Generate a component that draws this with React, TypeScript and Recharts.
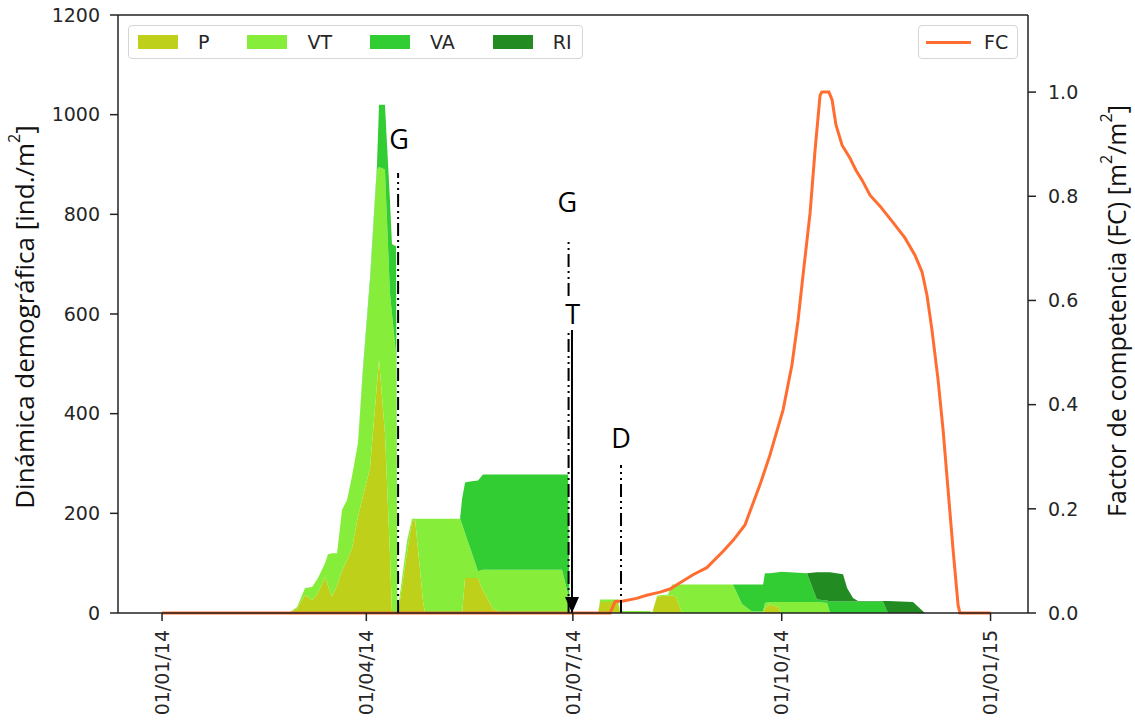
import { ComposedChart, Area, Line, XAxis, YAxis, ReferenceLine, ReferenceDot } from 'recharts';

// days since 01/01/14
const days = [0, 55.5, 56.4, 59.5, 63.0, 66.1, 68.7, 71.8, 73.1, 74.9, 77.1, 79.3, 81.5, 83.7, 86.3, 88.5, 91.6, 94.7, 95.6, 98.2, 100.4, 101.3, 103.1, 103.7, 104.8, 107.9, 110.1, 111.5, 115.0, 115.9, 131.3, 132.2, 133.5, 135.7, 139.2, 141.4, 143.2, 145.8, 150.2, 176.2, 178.9, 179.5, 192.1, 193.0, 200.9, 201.8, 215.0, 215.9, 218.1, 222.9, 224.7, 226.4, 229.1, 251.5, 255.5, 259.9, 264.8, 265.6, 267.8, 271.4, 272.7, 284.1, 288.5, 293.0, 294.3, 300.0, 301.8, 304.4, 306.6, 317.6, 319.8, 330.8, 336.1, 365];
const pVals = [0, 0, 0, 10, 36, 26, 40, 72, 55, 33, 55, 85, 106, 130, 193, 235, 290, 460, 508, 361, 120, 0, 0, 0, 25, 120, 184, 187, 23, 0, 0, 0, 70, 70, 70, 45, 30, 8, 0, 0, 0, 0, 0, 22, 22, 0, 0, 0, 33, 35, 35, 33, 0, 0, 0, 0, 0, 10, 17, 12, 0, 0, 0, 0, 0, 0, 0, 0, 0, 0, 0, 0, 0, 0];
const vtVals = [0, 0, 2, 2, 14, 26, 30, 28, 63, 87, 65, 122, 121, 145, 147, 247, 370, 430, 387, 529, 522, 600, 520, 0, 12, 24, 5, 2, 166, 189, 189, 178, 90, 61, 14, 42, 57, 79, 87, 87, 37, 0, 0, 5, 5, 4, 4, 0, 2, 2, 22, 24, 57, 57, 18, 3, 3, 10, 5, 10, 22, 22, 22, 20, 0, 0, 0, 0, 0, 0, 0, 0, 0, 0];
const vaVals = [0, 0, 0, 0, 0, 0, 0, 0, 0, 0, 0, 0, 0, 0, 0, 8, 10, 10, 125, 130, 188, 140, 216, 0, 0, 0, 0, 0, 0, 0, 0, 52, 102, 133, 182, 191, 191, 191, 191, 191, 241, 0, 0, 0, 0, 0, 0, 0, 0, 0, 0, 0, 0, 0, 39, 54, 54, 60, 58, 60, 61, 58, 5, 5, 23, 23, 23, 23, 23, 23, 0, 0, 0, 0];
const riVals = [0, 0, 0, 0, 0, 0, 0, 0, 0, 0, 0, 0, 0, 0, 0, 0, 0, 0, 0, 0, 0, 0, 0, 0, 0, 0, 0, 0, 0, 0, 0, 0, 0, 0, 0, 0, 0, 0, 0, 0, 0, 0, 0, 0, 0, 0, 0, 0, 0, 0, 0, 0, 0, 0, 0, 0, 0, 0, 0, 0, 0, 0, 55, 57, 59, 55, 27, 7, 1, 1, 24, 22, 0, 0];

const fcDays = [0, 197.4, 199.6, 203.2, 209.1, 213.5, 219.4, 223.8, 228.2, 234.1, 240.0, 247.3, 251.7, 256.8, 263.4, 267.8, 273.6, 277.5, 280.2, 282.4, 285.5, 287.7, 289.9, 290.7, 293.8, 295.2, 296.9, 299.6, 303.1, 305.7, 308.4, 311.9, 316.3, 322.0, 327.3, 331.7, 334.8, 337.0, 339.2, 341.9, 344.1, 346.3, 348.5, 350.7, 351.5, 365];
const fcVals = [0, 0, 0.022, 0.023, 0.028, 0.034, 0.040, 0.046, 0.058, 0.074, 0.087, 0.119, 0.140, 0.169, 0.246, 0.303, 0.39, 0.476, 0.562, 0.649, 0.768, 0.889, 0.994, 1.0, 1.0, 0.985, 0.937, 0.898, 0.873, 0.85, 0.831, 0.802, 0.781, 0.75, 0.72, 0.687, 0.655, 0.61, 0.543, 0.447, 0.351, 0.236, 0.121, 0.015, 0, 0];

const tickDays = [0, 90, 181, 273, 365];
const tickLabels = ['01/01/14', '01/04/14', '01/07/14', '01/10/14', '01/01/15'];
const leftTicks = [0, 200, 400, 600, 800, 1000, 1200];
const rightTicks = [0, 0.2, 0.4, 0.6, 0.8, 1.0];

const seriesKeys = ['p', 'vt', 'va', 'ri'];
const seriesNames = ['P', 'VT', 'VA', 'RI'];
const seriesColors = ['#bfd01a', '#86ee3b', '#32cd32', '#228b22'];
const fcColor = '#ff6e30';

// annotation segments: day, bottom and top of each vertical line
const segDays = [104, 179.1, 179.1, 180.6, 202.2];
const segBottoms = [0, 636, 0, 0, 0];
const segTops = [883, 752, 568, 568, 297];
const segSolid = [false, false, false, true, false];
const markerLabels = ['G', 'G', 'T', 'D'];
const labelDays = [104.4, 178.6, 180.9, 202.2];
const labelLevels = [953, 825, 602, 353];
const arrowDay = 180.6;

const data = days.map((d, i) => ({ day: d, p: pVals[i], vt: vtVals[i], va: vaVals[i], ri: riVals[i] }));
const fcData = fcDays.map((d, i) => ({ day: d, fc: fcVals[i] }));

const tickFont = { fill: '#262626', fontSize: 19, fontFamily: 'DejaVu Sans' };
const axisColor = '#222';

function DateTick(props: any) {
  const { x, y, payload } = props;
  const label = tickLabels[tickDays.indexOf(payload.value)];
  return (
    <text x={x} y={y} transform={`rotate(-90 ${x} ${y})`} textAnchor="end" dy="0.35em" {...tickFont}>
      {label}
    </text>
  );
}

function LeftTitle(props: any) {
  const vb = props.viewBox;
  const cx = vb.x + 24;
  const cy = vb.y + vb.height / 2 + 3;
  return (
    <text x={cx} y={cy} transform={`rotate(-90 ${cx} ${cy})`} textAnchor="middle" dominantBaseline="central" fontFamily="Open Sans" fontSize={26} fill="#111">
      Dinámica demográfica [ind./m<tspan dy={-10} fontSize={16}>2</tspan><tspan dy={10}>]</tspan>
    </text>
  );
}

function RightTitle(props: any) {
  const vb = props.viewBox;
  const cx = vb.x + 88;
  const cy = vb.y + vb.height / 2 - 3;
  return (
    <text x={cx} y={cy} transform={`rotate(-90 ${cx} ${cy})`} textAnchor="middle" dominantBaseline="central" fontFamily="Open Sans" fontSize={25} fill="#111">
      Factor de competencia (FC) [m<tspan dy={-10} fontSize={16}>2</tspan><tspan dy={10}>/m</tspan><tspan dy={-10} fontSize={16}>2</tspan><tspan dy={10}>]</tspan>
    </text>
  );
}

const legendText = { fontFamily: 'DejaVu Sans', fontSize: 19, color: '#262626', lineHeight: '19px' };
const legendBox = {
  position: 'absolute' as const,
  top: 25,
  height: 34,
  boxSizing: 'border-box' as const,
  border: '1px solid #d6d6d6',
  borderRadius: 4,
  background: 'rgba(255,255,255,0.8)',
  display: 'flex',
  alignItems: 'center',
};

export default function App() {
  return (
    <div style={{ position: 'absolute', left: 0, top: 0, width: 1135, height: 727, background: '#fff' }}>
      <ComposedChart width={1135} height={727} data={data} margin={{ top: 15, right: 0, bottom: 0, left: 0 }}>
        <XAxis
          dataKey="day"
          type="number"
          domain={[-19.4, 381.5]}
          ticks={tickDays}
          tick={<DateTick />}
          tickSize={8}
          tickMargin={9}
          height={114}
          interval={0}
          axisLine={{ stroke: axisColor, strokeWidth: 1.5 }}
          tickLine={{ stroke: axisColor, strokeWidth: 1.5 }}
        />
        <YAxis
          yAxisId="left"
          domain={[0, 1200]}
          ticks={leftTicks}
          width={118}
          tickSize={8}
          tickMargin={10}
          tick={tickFont}
          interval={0}
          axisLine={{ stroke: axisColor, strokeWidth: 1.5 }}
          tickLine={{ stroke: axisColor, strokeWidth: 1.5 }}
          label={{ content: (p: any) => <LeftTitle {...p} /> }}
        />
        <YAxis
          yAxisId="right"
          orientation="right"
          domain={[0, 1.148]}
          ticks={rightTicks}
          width={107}
          tickSize={8}
          tickMargin={12}
          tick={{ ...tickFont, textAnchor: 'start' }}
          interval={0}
          tickFormatter={(v: number) => v.toFixed(1)}
          axisLine={{ stroke: axisColor, strokeWidth: 1.5 }}
          tickLine={{ stroke: axisColor, strokeWidth: 1.5 }}
          label={{ content: (p: any) => <RightTitle {...p} /> }}
        />
        {seriesKeys.map((k, i) => (
          <Area
            key={k}
            yAxisId="left"
            type="linear"
            dataKey={k}
            name={seriesNames[i]}
            stackId="stages"
            fill={seriesColors[i]}
            fillOpacity={1}
            stroke="none"
            isAnimationActive={false}
          />
        ))}
        <Line
          yAxisId="right"
          data={fcData}
          dataKey="fc"
          name="FC"
          type="linear"
          stroke={fcColor}
          strokeWidth={3}
          dot={false}
          isAnimationActive={false}
        />
        <ReferenceLine yAxisId="left" y={1200} stroke={axisColor} strokeWidth={1.5} />
        {segDays.map((d, i) => (
          <ReferenceLine
            key={'m' + i}
            yAxisId="left"
            segment={[{ x: d, y: segBottoms[i] }, { x: d, y: segTops[i] }]}
            stroke="#000"
            strokeWidth={2}
            strokeDasharray={segSolid[i] ? undefined : '13 4 2 4 2 4'}
          />
        ))}
        {markerLabels.map((t, i) => (
          <ReferenceDot
            key={'l' + i}
            yAxisId="left"
            x={labelDays[i]}
            y={labelLevels[i]}
            shape={(p: any) => (
              <text x={p.cx} y={p.cy} textAnchor="middle" dominantBaseline="central" fontFamily="Open Sans" fontSize={27} fill="#000">
                {t}
              </text>
            )}
          />
        ))}
        <ReferenceDot
          yAxisId="left"
          x={arrowDay}
          y={0}
          shape={(p: any) => (
            <polygon points={`${p.cx - 7},${p.cy - 16} ${p.cx + 7},${p.cy - 16} ${p.cx},${p.cy}`} fill="#000" />
          )}
        />
      </ComposedChart>
      <div style={{ ...legendBox, left: 128, width: 455, paddingLeft: 9 }}>
        {seriesNames.map((n, i) => (
          <div key={n} style={{ display: 'flex', alignItems: 'center', marginRight: i < seriesNames.length - 1 ? 38 : 0 }}>
            <div style={{ width: 40, height: 14, background: seriesColors[i], marginRight: 20 }} />
            <span style={legendText}>{n}</span>
          </div>
        ))}
      </div>
      <div style={{ ...legendBox, left: 918, width: 100, paddingLeft: 7 }}>
        <div style={{ width: 45, height: 3, background: fcColor, marginRight: 13 }} />
        <span style={legendText}>FC</span>
      </div>
    </div>
  );
}
